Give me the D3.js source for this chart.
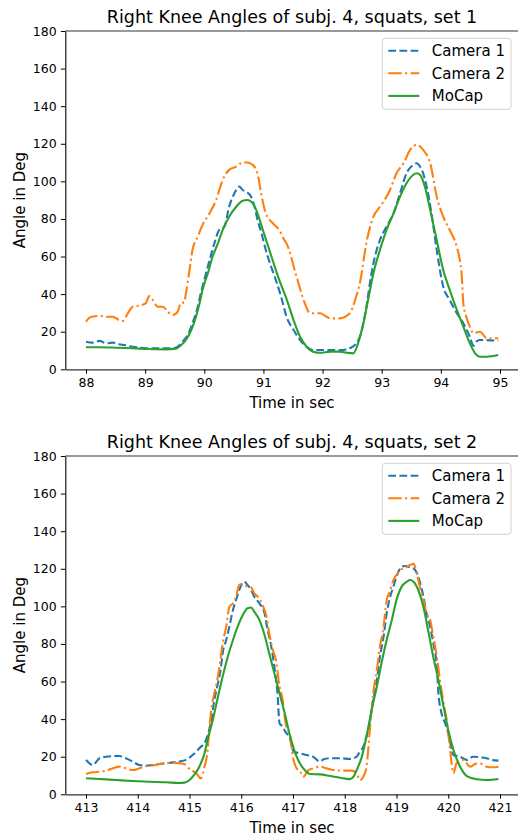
<!DOCTYPE html>
<html>
<head>
<meta charset="utf-8">
<script src="https://cdn.jsdelivr.net/npm/d3@7"></script>
<style>
html,body{margin:0;padding:0;background:#fff;}
svg{display:block;font-family:"DejaVu Sans",sans-serif;}
</style>
</head>
<body>
<svg id="chart" width="518" height="835"></svg>
<script>
// ---------- data ----------
const seriesNames = ["Camera 1", "Camera 2", "MoCap"];
const titles = ["Right Knee Angles of subj. 4, squats, set 1", "Right Knee Angles of subj. 4, squats, set 2"];
const xLabel = "Time in sec";
const yLabel = "Angle in Deg";
const yTicks = [0, 20, 40, 60, 80, 100, 120, 140, 160, 180];
const set1XTicks = [88, 89, 90, 91, 92, 93, 94, 95];
const set2XTicks = [413, 414, 415, 416, 417, 418, 419, 420, 421];

const set1Cam1 = [[88.0,14.7],[88.11,14.2],[88.23,15.1],[88.34,13.8],[88.45,14.2],[88.56,13.3],[88.65,12.9],[88.79,12.0],[88.90,11.5],[89.01,11.2],[89.21,11.2],[89.47,11.2],[89.55,12.0],[89.63,14.7],[89.72,18.3],[89.80,24.5],[89.89,33.3],[89.94,40.4],[90.00,47.5],[90.09,58.2],[90.17,67.0],[90.25,74.1],[90.34,75.9],[90.42,86.5],[90.51,93.7],[90.59,97.2],[90.65,95.4],[90.71,94.5],[90.79,91.9],[90.85,86.5],[90.90,79.5],[90.96,73.2],[91.04,63.5],[91.13,54.6],[91.21,47.5],[91.30,38.5],[91.39,28.0],[91.51,20.9],[91.62,15.6],[91.73,12.0],[91.84,10.3],[92.01,10.3],[92.18,10.3],[92.35,10.3],[92.46,11.2],[92.57,13.8],[92.63,17.3],[92.69,24.5],[92.75,35.1],[92.80,45.8],[92.86,56.4],[92.97,68.8],[93.08,75.9],[93.20,83.0],[93.31,93.7],[93.42,104.3],[93.53,108.7],[93.59,109.6],[93.65,107.8],[93.70,104.3],[93.76,97.2],[93.85,81.2],[93.93,63.5],[94.04,44.0],[94.15,36.9],[94.27,29.8],[94.38,24.5],[94.49,17.3],[94.55,12.5],[94.61,15.0],[94.66,15.6],[94.97,15.2]];
const set1Cam2 = [[88.0,25.3],[88.06,27.5],[88.11,28.0],[88.23,28.4],[88.34,28.0],[88.45,28.0],[88.56,26.2],[88.62,25.7],[88.70,29.4],[88.79,33.3],[88.90,33.9],[89.01,35.1],[89.07,39.0],[89.13,36.9],[89.21,33.3],[89.30,33.3],[89.38,30.7],[89.47,28.9],[89.55,30.7],[89.61,35.5],[89.66,35.5],[89.69,40.4],[89.75,52.8],[89.80,63.5],[89.89,70.6],[89.97,76.8],[90.09,83.0],[90.20,90.1],[90.31,100.7],[90.42,106.1],[90.54,107.8],[90.65,110.0],[90.73,110.0],[90.82,108.7],[90.90,104.3],[90.96,93.7],[91.04,83.0],[91.16,77.7],[91.27,74.0],[91.35,69.0],[91.39,67.0],[91.56,49.3],[91.70,35.1],[91.79,29.8],[91.96,29.8],[92.13,27.1],[92.29,27.1],[92.46,29.8],[92.55,36.9],[92.63,45.8],[92.75,68.8],[92.86,81.2],[92.97,86.5],[93.03,89.2],[93.14,95.4],[93.25,104.3],[93.37,109.6],[93.48,116.7],[93.59,119.4],[93.70,116.7],[93.82,109.6],[93.93,91.9],[94.04,81.2],[94.15,74.1],[94.27,65.2],[94.32,58.2],[94.35,51.1],[94.38,35.1],[94.43,28.0],[94.49,22.7],[94.55,19.2],[94.66,20.0],[94.78,16.5],[94.97,16.5]];
const set1Mocap = [[88.0,11.7],[88.23,11.7],[88.51,11.5],[88.79,11.2],[89.07,10.8],[89.35,10.6],[89.52,11.0],[89.61,12.9],[89.69,15.6],[89.78,20.9],[89.86,28.0],[89.92,35.1],[89.97,42.2],[90.06,51.1],[90.14,59.9],[90.23,67.0],[90.31,74.1],[90.42,81.2],[90.54,86.5],[90.65,89.7],[90.73,90.1],[90.82,88.3],[90.90,83.0],[90.99,74.1],[91.10,63.5],[91.21,52.8],[91.28,46.5],[91.39,37.5],[91.51,26.2],[91.62,17.3],[91.73,12.0],[91.84,9.4],[91.96,8.8],[92.13,9.4],[92.29,9.4],[92.41,8.8],[92.52,8.5],[92.60,13.8],[92.69,24.5],[92.78,38.6],[92.86,51.1],[92.97,63.5],[93.08,74.1],[93.20,83.0],[93.31,91.9],[93.42,99.0],[93.53,103.4],[93.59,104.3],[93.65,103.4],[93.73,97.2],[93.82,84.8],[93.93,68.8],[94.04,52.8],[94.15,42.2],[94.27,31.6],[94.38,22.7],[94.49,13.8],[94.58,8.5],[94.66,6.7],[94.78,6.7],[94.97,7.6]];

const set2Cam1 = [[413.0,18.3],[413.13,15.6],[413.26,19.2],[413.39,20.0],[413.64,20.4],[413.77,19.2],[413.90,17.4],[414.03,15.6],[414.16,15.2],[414.29,15.6],[414.42,16.1],[414.55,16.5],[414.68,17.0],[414.80,17.4],[414.93,18.3],[415.06,20.9],[415.19,24.5],[415.32,28.9],[415.42,39.5],[415.48,50.2],[415.55,59.1],[415.61,67.9],[415.64,75.0],[415.71,82.1],[415.77,89.2],[415.84,98.1],[415.90,103.4],[415.96,108.7],[416.06,113.1],[416.12,111.4],[416.19,108.7],[416.25,105.2],[416.35,101.6],[416.45,96.3],[416.51,87.4],[416.58,78.6],[416.64,67.9],[416.70,53.8],[416.74,37.8],[416.80,36.0],[416.87,32.5],[416.93,30.7],[417.01,22.7],[417.14,21.8],[417.26,20.9],[417.39,20.0],[417.52,17.4],[417.59,18.6],[417.72,19.2],[417.91,19.2],[418.10,18.8],[418.23,20.0],[418.29,22.7],[418.36,25.3],[418.42,30.7],[418.49,39.5],[418.55,50.2],[418.62,60.8],[418.68,73.2],[418.75,83.9],[418.81,96.3],[418.87,104.3],[418.94,110.5],[419.00,115.8],[419.10,121.1],[419.16,121.5],[419.26,120.8],[419.36,119.4],[419.45,113.1],[419.52,105.2],[419.58,96.3],[419.65,89.2],[419.71,80.4],[419.78,67.9],[419.81,53.8],[419.87,43.1],[419.94,37.8],[420.00,32.5],[420.10,20.9],[420.23,20.0],[420.36,18.3],[420.48,20.0],[420.61,19.7],[420.74,19.2],[420.84,18.3],[420.97,17.9]];
const set2Cam2 = [[413.0,10.8],[413.13,11.7],[413.26,12.0],[413.39,12.6],[413.52,13.8],[413.64,14.7],[413.77,13.8],[413.90,12.9],[414.03,13.8],[414.16,15.1],[414.29,15.4],[414.42,16.1],[414.55,16.5],[414.68,16.8],[414.80,16.5],[414.90,16.1],[414.96,14.4],[415.03,12.9],[415.13,11.2],[415.22,8.5],[415.29,14.7],[415.35,23.6],[415.38,34.2],[415.42,44.9],[415.48,53.8],[415.51,57.3],[415.58,67.9],[415.64,80.4],[415.71,89.2],[415.77,99.8],[415.84,101.6],[415.90,105.2],[415.96,111.4],[416.03,111.9],[416.12,110.5],[416.19,110.2],[416.25,107.0],[416.32,105.2],[416.41,100.7],[416.48,95.4],[416.54,85.7],[416.61,76.8],[416.67,71.5],[416.74,57.3],[416.80,50.2],[416.84,41.3],[416.87,36.0],[416.94,31.5],[417.01,18.3],[417.07,13.8],[417.14,12.0],[417.20,9.4],[417.30,12.9],[417.39,13.8],[417.52,14.7],[417.65,13.8],[417.78,12.9],[417.97,12.6],[418.13,12.6],[418.23,11.2],[418.29,7.6],[418.36,9.4],[418.42,14.7],[418.49,36.0],[418.55,53.8],[418.62,66.2],[418.68,78.6],[418.75,89.2],[418.81,103.4],[418.87,107.8],[418.94,114.0],[419.00,116.7],[419.07,119.4],[419.16,120.3],[419.26,122.0],[419.33,122.6],[419.39,117.6],[419.45,110.5],[419.52,103.4],[419.58,96.3],[419.65,92.8],[419.71,83.9],[419.78,73.2],[419.84,60.8],[419.91,48.4],[419.97,39.5],[420.03,25.3],[420.10,11.2],[420.16,16.5],[420.29,18.3],[420.42,14.7],[420.52,16.1],[420.61,16.5],[420.74,14.7],[420.87,14.4],[420.97,14.7]];
const set2Mocap = [[413.0,8.5],[413.26,8.1],[413.58,7.6],[413.90,7.1],[414.22,6.7],[414.55,6.4],[414.80,6.0],[414.90,6.2],[415.0,7.6],[415.09,10.3],[415.19,14.7],[415.29,21.8],[415.35,29.0],[415.45,39.5],[415.55,51.9],[415.64,62.6],[415.74,73.2],[415.84,82.1],[415.93,89.2],[416.03,95.4],[416.12,99.0],[416.19,99.4],[416.25,97.2],[416.35,92.8],[416.45,84.8],[416.54,75.0],[416.64,64.4],[416.74,53.8],[416.84,43.1],[416.93,32.5],[417.07,20.0],[417.20,13.8],[417.33,10.8],[417.52,10.6],[417.72,9.7],[417.91,8.8],[418.10,8.1],[418.17,9.4],[418.23,12.9],[418.33,20.0],[418.42,30.7],[418.52,44.9],[418.62,57.3],[418.71,69.7],[418.81,82.1],[418.91,92.8],[419.00,103.4],[419.10,110.5],[419.20,113.1],[419.26,114.0],[419.33,113.1],[419.42,108.7],[419.52,99.8],[419.61,87.4],[419.71,73.2],[419.81,60.8],[419.91,46.6],[420.00,34.2],[420.10,23.6],[420.23,14.7],[420.36,9.7],[420.55,8.0],[420.74,7.6],[420.97,8.1]];

// ---------- styling ----------
const colors = ["#1f77b4", "#ff7f0e", "#2ca02c"];
const LW = 2.1;
const dashes = [`${3.7*LW},${1.6*LW}`, `${6.4*LW},${1.6*LW},${1*LW},${1.6*LW}`, null];

const svg = d3.select("#chart");
const FONT = '"DejaVu Sans", sans-serif';

function panel(cfg) {
  const x = d3.scaleLinear().domain([cfg.xMin, cfg.xMax]).range([65.3, 520.7]);
  const y = d3.scaleLinear().domain([0, 180]).range([cfg.bottom, cfg.top]);
  const g = svg.append("g");

  // lines
  const line = d3.line().x(d => x(d[0])).y(d => y(d[1])).curve(d3.curveMonotoneX);
  cfg.series.forEach((s, i) => {
    g.append("path").datum(s)
      .attr("d", line)
      .attr("fill", "none")
      .attr("stroke", colors[i])
      .attr("stroke-width", LW)
      .attr("stroke-linejoin", "round")
      .attr("stroke-dasharray", dashes[i]);
  });

  // spines
  g.append("line").attr("x1", 65.3).attr("x2", 520).attr("y1", cfg.top).attr("y2", cfg.top)
    .attr("stroke", "#777").attr("stroke-width", 1.4);

  const yAxis = d3.axisLeft(y).tickValues(yTicks).tickSize(4.4).tickSizeOuter(0).tickPadding(4.2);
  const ya = g.append("g").attr("transform", "translate(65.3,0)").call(yAxis);
  const xAxis = d3.axisBottom(x).tickValues(cfg.xTicks).tickSize(4.4).tickSizeOuter(0).tickPadding(4.2).tickFormat(d3.format("d"));
  const xa = g.append("g").attr("transform", `translate(0,${cfg.bottom})`).call(xAxis);
  [ya, xa].forEach(a => {
    a.selectAll("text").attr("font-family", FONT).attr("font-size", 12.5).attr("fill", "#000");
    a.selectAll("line").attr("stroke", "#000").attr("stroke-width", 1);
    a.select(".domain").attr("stroke", "#000").attr("stroke-width", 1.1);
  });
  xa.select(".domain").attr("stroke", "#333").attr("stroke-width", 1.3);

  // title
  g.append("text").attr("x", 292).attr("y", cfg.top - 8.5)
    .attr("text-anchor", "middle").attr("font-family", FONT).attr("font-size", 17.5)
    .attr("fill", "#000").text(cfg.title);
  // axis labels
  g.append("text").attr("x", 292).attr("y", cfg.bottom + 38.5)
    .attr("text-anchor", "middle").attr("font-family", FONT).attr("font-size", 15)
    .attr("fill", "#000").text(xLabel);
  g.append("text").attr("transform", `translate(24.5,${(cfg.top + cfg.bottom) / 2}) rotate(-90)`)
    .attr("text-anchor", "middle").attr("font-family", FONT).attr("font-size", 15)
    .attr("fill", "#000").text(yLabel);

  // legend
  const lx = 382.3, ly = cfg.top + 7.3, lw = 128.7, lh = 71;
  const lg = g.append("g");
  lg.append("rect").attr("x", lx).attr("y", ly).attr("width", lw).attr("height", lh)
    .attr("rx", 3).attr("fill", "#fff").attr("fill-opacity", 0.8)
    .attr("stroke", "#d0d0d0").attr("stroke-width", 1);
  seriesNames.forEach((n, i) => {
    const cy = ly + 12.4 + i * 22.6;
    lg.append("line").attr("x1", lx + 6).attr("x2", lx + 37).attr("y1", cy).attr("y2", cy)
      .attr("stroke", colors[i]).attr("stroke-width", LW).attr("stroke-dasharray", dashes[i]);
    lg.append("text").attr("x", lx + 49.5).attr("y", cy).attr("dy", "0.36em")
      .attr("font-family", FONT).attr("font-size", 15).attr("fill", "#000").text(n);
  });
}

panel({ title: titles[0], top: 31, bottom: 369.3, xMin: 87.65, xMax: 95.35, xTicks: set1XTicks,
        series: [set1Cam1, set1Cam2, set1Mocap] });
panel({ title: titles[1], top: 456, bottom: 794.3, xMin: 412.6, xMax: 421.4, xTicks: set2XTicks,
        series: [set2Cam1, set2Cam2, set2Mocap] });
</script>
</body>
</html>
